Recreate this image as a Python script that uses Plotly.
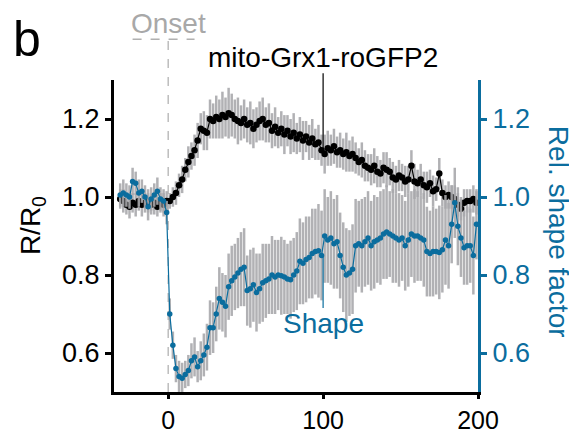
import plotly.graph_objects as go

# time (s), sampled every 2 s
time_s = list(range(-31, 200, 2))

grx_ratio = [
    0.995, 0.99, 0.98, 0.975, 0.985, 0.98, 0.99, 0.98, 0.985, 0.99,
    0.98, 0.985, 0.975, 0.985, 0.98, 0.99, 0.99, 1.0, 1.01, 1.03,
    1.045, 1.07, 1.09, 1.105, 1.12, 1.145, 1.175, 1.17, 1.165, 1.2,
    1.195, 1.205, 1.2, 1.21, 1.205, 1.215, 1.21, 1.2, 1.195, 1.19,
    1.2, 1.185, 1.19, 1.175, 1.185, 1.195, 1.2, 1.185, 1.19, 1.17,
    1.18, 1.165, 1.175, 1.16, 1.17, 1.155, 1.165, 1.15, 1.16, 1.145,
    1.155, 1.14, 1.15, 1.135, 1.14, 1.12, 1.11, 1.125, 1.12, 1.13,
    1.115, 1.12, 1.11, 1.115, 1.105, 1.11, 1.1, 1.09, 1.095, 1.08,
    1.075, 1.07, 1.08, 1.065, 1.06, 1.075, 1.07, 1.065, 1.05, 1.045,
    1.055, 1.05, 1.04, 1.045, 1.08, 1.04, 1.035, 1.045, 1.03, 1.025,
    1.035, 1.015, 1.02, 1.06, 1.01, 1.0, 1.005, 1.0, 0.995, 0.98,
    0.97, 0.985, 0.99, 0.99, 0.995, 0.985,
]

grx_err = [
    0.025, 0.03, 0.025, 0.03, 0.025, 0.03, 0.025, 0.03, 0.025, 0.03,
    0.025, 0.03, 0.025, 0.025, 0.03, 0.025, 0.02, 0.025, 0.03, 0.03,
    0.035, 0.03, 0.04, 0.035, 0.04, 0.045, 0.04, 0.05, 0.045, 0.05,
    0.045, 0.055, 0.05, 0.06, 0.05, 0.065, 0.055, 0.05, 0.06, 0.045,
    0.05, 0.045, 0.055, 0.05, 0.045, 0.05, 0.055, 0.045, 0.05, 0.045,
    0.05, 0.04, 0.045, 0.05, 0.04, 0.045, 0.05, 0.04, 0.045, 0.05,
    0.04, 0.045, 0.05, 0.04, 0.045, 0.04, 0.05, 0.045, 0.04, 0.045,
    0.04, 0.045, 0.04, 0.05, 0.04, 0.045, 0.04, 0.035, 0.045, 0.04,
    0.035, 0.04, 0.045, 0.04, 0.035, 0.04, 0.045, 0.035, 0.04, 0.035,
    0.04, 0.035, 0.04, 0.035, 0.04, 0.045, 0.035, 0.04, 0.035, 0.04,
    0.035, 0.04, 0.03, 0.04, 0.035, 0.03, 0.035, 0.03, 0.035, 0.03,
    0.03, 0.035, 0.03, 0.03, 0.035, 0.03,
]

shape_factor = [
    1.005, 1.01, 1.005, 1.0, 1.04, 1.035, 1.01, 1.015, 1.0, 0.975,
    0.995, 1.005, 1.015, 0.995, 0.99, 0.96, 0.70, 0.62, 0.56, 0.54,
    0.535, 0.545, 0.555, 0.58, 0.59, 0.565, 0.58, 0.595, 0.615, 0.665,
    0.665, 0.70, 0.74, 0.73, 0.72, 0.77, 0.785, 0.795, 0.805, 0.815,
    0.82, 0.76, 0.765, 0.775, 0.755, 0.765, 0.78, 0.785, 0.79, 0.80,
    0.795, 0.80, 0.798, 0.795, 0.79, 0.788, 0.80, 0.81, 0.835, 0.83,
    0.84, 0.845, 0.855, 0.86, 0.862, 0.85, 0.90, 0.89, 0.895, 0.88,
    0.885, 0.85, 0.82, 0.80, 0.805, 0.815, 0.875, 0.88, 0.875, 0.885,
    0.895, 0.875, 0.885, 0.89, 0.895, 0.905, 0.91, 0.905, 0.90, 0.895,
    0.89, 0.895, 0.875, 0.89, 0.905, 0.90, 0.90, 0.895, 0.89, 0.86,
    0.855, 0.86, 0.86, 0.858, 0.865, 0.89, 0.875, 0.93, 0.985, 0.925,
    0.895, 0.87, 0.875, 0.875, 0.85, 0.93,
]

shape_err = [
    0.03, 0.035, 0.03, 0.03, 0.035, 0.03, 0.035, 0.03, 0.03, 0.035,
    0.03, 0.03, 0.035, 0.03, 0.03, 0.03, 0.04, 0.035, 0.035, 0.04,
    0.04, 0.035, 0.04, 0.045, 0.05, 0.04, 0.05, 0.055, 0.06, 0.07,
    0.065, 0.07, 0.08, 0.075, 0.08, 0.085, 0.09, 0.085, 0.09, 0.095,
    0.1, 0.09, 0.1, 0.095, 0.1, 0.09, 0.1, 0.095, 0.09, 0.1,
    0.095, 0.09, 0.1, 0.095, 0.09, 0.1, 0.095, 0.1, 0.11, 0.105,
    0.11, 0.105, 0.115, 0.11, 0.12, 0.115, 0.12, 0.11, 0.12, 0.115,
    0.12, 0.11, 0.115, 0.12, 0.11, 0.115, 0.12, 0.11, 0.12, 0.115,
    0.12, 0.115, 0.12, 0.11, 0.12, 0.115, 0.12, 0.11, 0.12, 0.115,
    0.12, 0.11, 0.115, 0.12, 0.11, 0.12, 0.115, 0.11, 0.12, 0.115,
    0.11, 0.115, 0.11, 0.12, 0.11, 0.115, 0.11, 0.1, 0.09, 0.1,
    0.1, 0.095, 0.1, 0.095, 0.1, 0.09,
]

x_ticks = [0, 100, 200]
y_ticks = [0.6, 0.8, 1.0, 1.2]
y_ticktext = ["0.6", "0.8", "1.0", "1.2"]

BLUE = "#0b6d9e"
GREY = "rgba(168,168,172,0.9)"
FONT = "Liberation Sans, Arial, sans-serif"

fig = go.Figure()

# error bars first (behind all markers)
fig.add_trace(go.Scatter(
    x=time_s, y=grx_ratio, mode="markers",
    marker=dict(size=1, opacity=0),
    error_y=dict(type="data", array=grx_err, color=GREY, thickness=2.5, width=0),
    hoverinfo="skip", showlegend=False, yaxis="y"))
fig.add_trace(go.Scatter(
    x=time_s, y=shape_factor, mode="markers",
    marker=dict(size=1, opacity=0),
    error_y=dict(type="data", array=shape_err, color=GREY, thickness=2.5, width=0),
    hoverinfo="skip", showlegend=False, yaxis="y2"))

fig.add_trace(go.Scatter(
    x=time_s, y=grx_ratio, mode="lines+markers",
    line=dict(color="black", width=1.2),
    marker=dict(color="black", size=6.5),
    showlegend=False, yaxis="y"))
fig.add_trace(go.Scatter(
    x=time_s, y=shape_factor, mode="lines+markers",
    line=dict(color=BLUE, width=1.2),
    marker=dict(color=BLUE, size=5.5),
    showlegend=False, yaxis="y2"))

axis_common = dict(showgrid=False, zeroline=False, showline=True, linewidth=3,
                   ticks="outside", tickwidth=2.5, automargin=False)


def label(text, x, y, size, color, xref="paper", angle=0, yanchor="middle"):
    return dict(text=text, xref=xref, yref="paper", x=x, y=y,
                xanchor="center", yanchor=yanchor, textangle=angle,
                showarrow=False, font=dict(size=size, color=color))


fig.update_layout(
    width=569, height=426,
    margin=dict(l=106, r=99, t=72, b=42, autoexpand=False),
    paper_bgcolor="white", plot_bgcolor="white",
    font=dict(family=FONT, color="black", size=26),
    xaxis=dict(range=[-35, 200], tickvals=x_ticks, linecolor="black", ticklen=4,
               tickcolor="black", tickfont=dict(size=25, color="black"), **axis_common),
    yaxis=dict(range=[0.5, 1.3], tickvals=y_ticks, ticktext=y_ticktext, ticklen=6,
               linecolor="black", tickcolor="black",
               tickfont=dict(size=27, color="black"), **axis_common),
    yaxis2=dict(range=[0.5, 1.3], tickvals=y_ticks, ticktext=y_ticktext, ticklen=6,
                overlaying="y", side="right", linecolor=BLUE, tickcolor=BLUE,
                tickfont=dict(size=27, color=BLUE), **axis_common),
    shapes=[
        dict(type="line", xref="x", yref="paper", x0=0, x1=0, y0=0, y1=1.131,
             line=dict(color="#bdbdbd", width=1.5, dash="dash"), layer="below"),
        dict(type="line", xref="x", yref="paper", x0=-23, x1=17, y0=1.131, y1=1.131,
             line=dict(color="#b0b0b0", width=1.5, dash="dash")),
        dict(type="line", xref="x", yref="paper", x0=100, x1=100, y0=0.776, y1=1.022,
             line=dict(color="black", width=1.2)),
        dict(type="line", xref="x", yref="paper", x0=100, x1=100, y0=0.269, y1=0.433,
             line=dict(color=BLUE, width=1.2)),
    ],
    annotations=[
        label("b", -0.239, 1.228, 50, "black", yanchor="top"),
        label("Onset", 0, 1.18, 28, "#a8a8a8", xref="x"),
        label("mito-Grx1-roGFP2", 100, 1.072, 28, "black", xref="x"),
        label("Shape", 100, 0.218, 28, BLUE, xref="x"),
        label("R/R<sub>0</sub>", -0.225, 0.532, 28, "black", angle=-90),
        label("Rel. shape factor", 1.22, 0.513, 28, BLUE, angle=90),
    ],
)

fig.write_html("out.html")
